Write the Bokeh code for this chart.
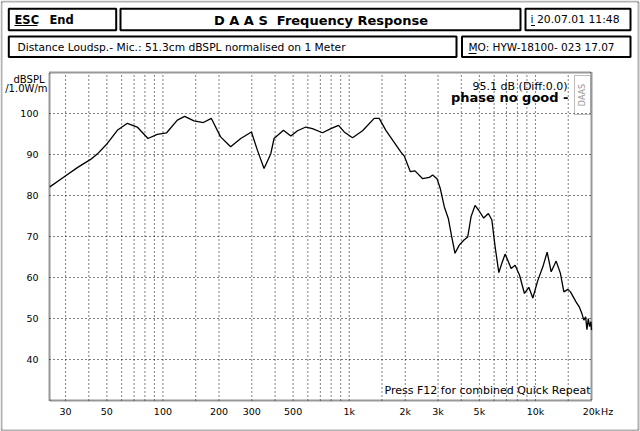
import math
from bokeh.plotting import figure
from bokeh.models import Range1d, Label, LinearScale
from bokeh.core.properties import value
from bokeh.embed import file_html
from bokeh.resources import INLINE

# ---------------- data ----------------
freq_hz = [24.7, 29.4, 34.7, 40.9, 44.4, 50.3, 56.9, 64.4, 72.8, 83.1, 93.3, 104.7,
           119.5, 130.8, 146.8, 164.8, 182, 204, 231, 261.7, 298.6, 321.8, 349, 379.5,
           395, 443.7, 486, 528, 585, 635, 719, 797, 877, 940, 1042, 1180, 1362, 1449,
           1574, 1711, 1896, 1977, 2130, 2256, 2481, 2692, 2806, 2962, 3084, 3243, 3406,
           3553, 3700, 3900, 4120, 4330, 4510, 4740, 4960, 5275, 5590, 5830, 6075, 6360,
           6597, 6873, 7106, 7404, 7780, 8210, 8730, 9215, 9683, 10300, 10960, 11560,
           12150, 12920, 13620, 14210, 14930, 15420, 16550, 17250, 17760, 18200, 18600,
           18900, 19220, 19530, 19860, 20000]
spl_db = [82.1, 84.5, 86.8, 88.8, 90.1, 92.7, 95.9, 97.6, 96.7, 93.9, 94.9, 95.3,
          98.4, 99.3, 98.2, 97.8, 98.8, 94.3, 91.9, 93.9, 95.5, 91.0, 86.6, 90.2,
          93.9, 95.9, 94.5, 95.8, 96.7, 96.3, 95.3, 96.3, 97.1, 95.5, 94.1, 95.8, 98.8, 98.8,
          95.9, 93.5, 90.6, 89.6, 85.8, 86.0, 84.1, 84.4, 85.0, 84.1, 81.7, 77.2, 74.4,
          69.9, 65.9, 67.9, 69.1, 69.9, 74.8, 77.6, 76.4, 74.5, 75.6, 74.1, 67.5, 61.2,
          63.4, 65.7, 64.2, 62.2, 63.0, 60.6, 56.1, 57.6, 55.0, 59.3, 62.6, 66.2,
          61.4, 64.0, 61.0, 56.5, 57.1, 56.5, 54.0, 52.7, 51.2, 49.6, 50.4,
          47.3, 50.0, 48.0, 49.2, 47.2]

x_tick_values = [30, 50, 100, 200, 300, 500, 1000, 2000, 3000, 5000, 10000, 20000]
x_tick_labels = ["30", "50", "100", "200", "300", "500", "1k", "2k", "3k", "5k", "10k", "20k"]
x_unit = "Hz"
x_grid_values = [30, 40, 50, 60, 70, 80, 90, 100, 150, 200, 300, 400, 500, 600, 700, 800,
                 900, 1000, 1500, 2000, 3000, 4000, 5000, 6000, 7000, 8000, 9000, 10000, 15000]
y_tick_values = [40, 50, 60, 70, 80, 90, 100]
y_tick_labels = ["40", "50", "60", "70", "80", "90", "100"]

freq_min, freq_max = 24.6, 20000
db_min, db_max = 30, 110

esc_text = "ESC"
end_text = "End"
title_text = "D A A S\u00a0\u00a0Frequency Response"
date_text = "i 20.07.01 11:48"
info_text = "Distance Loudsp.- Mic.: 51.3cm dBSPL normalised on 1 Meter"
model_text = "MO: HYW-18100- 023 17.07"
unit_line1 = "dBSPL"
unit_line2 = "/1.0W/m"
level_text = "95.1 dB (Diff:0.0)"
phase_text = "phase no good -"
footer_text = "Press F12 for combined Quick Repeat"
side_text = "DAAS"

FONT = "DejaVu Sans"

# ---------------- layout geometry (pixels) ----------------
W, H = 640, 431
FX0, FX1, FY0, FY1 = 49, 591, 72, 400   # plot frame
ppd = (FX1 - FX0) / math.log10(freq_max / freq_min)   # px per decade
ppdb = (FY1 - FY0) / (db_max - db_min)                 # px per dB
xr = Range1d(10 ** (math.log10(freq_min) - FX0 / ppd),
             10 ** (math.log10(freq_max) + (W - FX1) / ppd))
yr = Range1d(db_min - (H - FY1) / ppdb, db_max + FY0 / ppdb)

p = figure(width=W, height=H, x_axis_type="log", x_range=xr, y_range=yr,
           x_axis_location=None, y_axis_location=None,
           output_backend="svg", toolbar_location=None, min_border=0)
p.grid.grid_line_color = None
p.outline_line_color = None
p.background_fill_color = "white"
p.border_fill_color = "white"
p.extra_x_ranges = {"px": Range1d(0, W)}
p.extra_y_ranges = {"py": Range1d(H, 0)}
p.extra_x_scales = {"px": LinearScale()}
p.extra_y_scales = {"py": LinearScale()}
PX = dict(x_range_name="px", y_range_name="py")

# page border (checkered)
p.quad(left=[1], right=[638], top=[1], bottom=[430], fill_color=None,
       line_color="#666666", line_width=2, line_dash="1 1", **PX)

# header boxes
p.quad(left=[8.3, 120, 525, 8.3, 461.5], right=[115.7, 520, 630, 456, 630],
       top=[8.3, 8.3, 8.3, 36, 36], bottom=[29.7, 29.7, 29.7, 56.5, 56.5],
       fill_color=None, line_color="black", line_width=2, **PX)

def lab(x, y, t, size, bold=False, align="left", color="black", angle=0):
    p.add_layout(Label(x=x, y=y, text=t, text_font=FONT, text_font_size=size,
                       text_font_style="bold" if bold else "normal",
                       text_align=align, text_baseline="middle", text_color=color,
                       angle=angle, **PX))

lab(14, 19, esc_text, "11.5px", bold=True)
lab(49, 19, end_text, "11.5px", bold=True)
lab(320.5, 19.5, title_text, "13px", bold=True, align="center")
lab(530, 19, date_text, "10.8px")
lab(17, 46.5, info_text, "10.7px")
lab(468, 46.5, model_text, "10.5px")
p.segment(x0=[14, 530.5, 468], y0=[25, 25, 53], x1=[37, 534.5, 476], y1=[25, 25, 53],
          line_color="black", line_width=1, **PX)

# plot grid (data space)
n = len(x_grid_values)
p.segment(x0=x_grid_values, y0=[db_min] * n, x1=x_grid_values, y1=[db_max] * n,
          line_color="black", line_width=1, line_dash="1 3")
m = len(y_tick_values)
p.segment(x0=[freq_min] * m, y0=y_tick_values, x1=[freq_max] * m, y1=y_tick_values,
          line_color="black", line_width=1, line_dash="1 3")

# frame outline
p.quad(left=[freq_min], right=[freq_max], bottom=[db_min], top=[db_max], fill_color=None,
       line_color="#333333", line_width=2, line_dash="1 1")

# response curve
p.line(freq_hz, spl_db, line_color="black", line_width=1.3)

# tick labels through the scales
xlab_y = db_min - 11 / ppdb
p.text(x=x_tick_values, y=[xlab_y] * len(x_tick_values), text=x_tick_labels,
       text_font=value(FONT), text_font_size="9.5px", text_align="center",
       text_baseline="middle", text_color="black")
p.text(x=[freq_max], y=[xlab_y], text=[x_unit], x_offset=9.5,
       text_font=value(FONT), text_font_size="9.5px", text_align="left",
       text_baseline="middle", text_color="black")
ylab_x = 10 ** (math.log10(freq_min) - 11 / ppd)
p.text(x=[ylab_x] * m, y=y_tick_values, text=y_tick_labels,
       text_font=value(FONT), text_font_size="9.5px", text_align="right",
       text_baseline="middle", text_color="black")

# plot annotations
lab(44, 79, unit_line1, "10px", align="right")
lab(47, 88, unit_line2, "10px", align="right")
lab(567, 86, level_text, "11px", align="right")
lab(568, 97, phase_text, "13px", bold=True, align="right")
lab(590, 390, footer_text, "11px", align="right")

p.quad(left=[574], right=[590], top=[75], bottom=[114], fill_color=None,
       line_color="#777777", line_width=1, line_dash="1 1", **PX)
lab(582, 94.5, side_text, "8px", align="center", color="#999999", angle=1.5708)

open("out.html", "w").write(file_html(p, INLINE))
